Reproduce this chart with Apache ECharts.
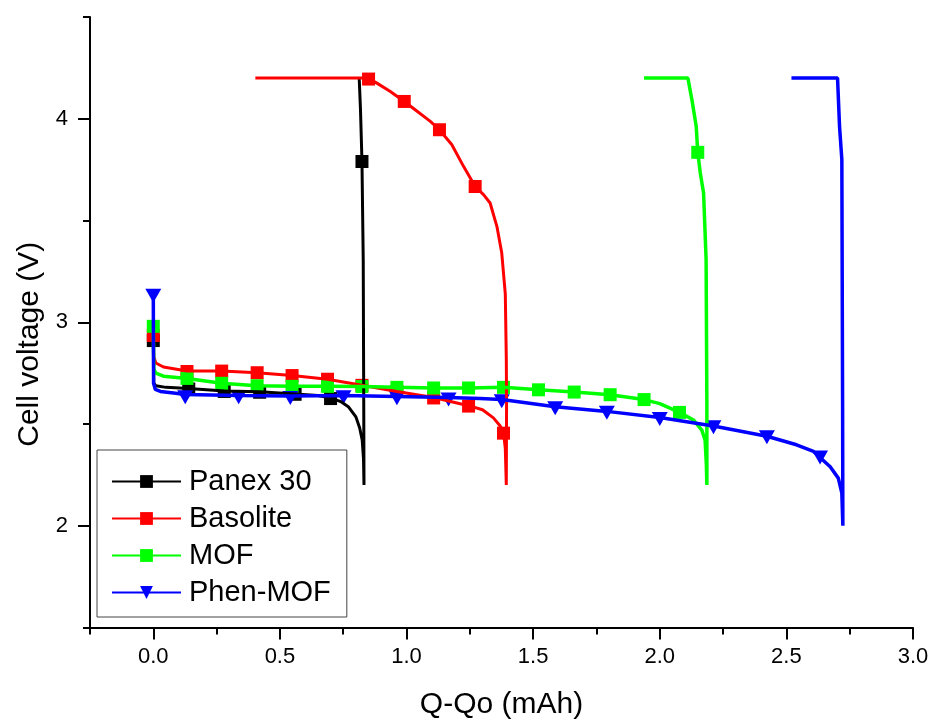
<!DOCTYPE html>
<html>
<head>
<meta charset="utf-8">
<script src="https://cdn.jsdelivr.net/npm/echarts@6/dist/echarts.min.js"></script>
<style>
html,body{margin:0;padding:0;background:#fff;}
#chart{width:935px;height:720px;}
</style>
</head>
<body>
<div id="chart"></div>
<script>
// ---- data ----
const seriesNames = ['Panex 30', 'Basolite', 'MOF', 'Phen-MOF'];
const xTickValues = [0, 0.5, 1, 1.5, 2, 2.5, 3];
const yTickValues = [2, 3, 4];

const panexCurve = [
  [0,2.91],[0.002,2.70],[0.01,2.688],[0.05,2.68],[0.14,2.675],[0.28,2.662],[0.42,2.658],
  [0.56,2.648],[0.65,2.64],[0.70,2.628],[0.74,2.61],[0.77,2.585],[0.80,2.535],[0.815,2.48],
  [0.825,2.42],[0.83,2.33],[0.832,2.2],[0.831,2.6],[0.829,3.3],[0.824,3.79],[0.818,4.05],[0.813,4.2]
];
const panexMarkers = [[0,2.91],[0.14,2.672],[0.28,2.66],[0.42,2.656],[0.56,2.646],[0.70,2.625],[0.824,3.79]];

const basoliteCurve = [
  [0,2.935],[0.002,2.83],[0.01,2.80],[0.04,2.78],[0.133,2.76],[0.27,2.76],[0.41,2.752],
  [0.548,2.738],[0.688,2.72],[0.824,2.69],[0.962,2.66],[1.107,2.63],[1.245,2.59],[1.30,2.57],
  [1.343,2.53],[1.37,2.49],[1.383,2.455],[1.39,2.38],[1.394,2.2],
  [1.395,2.6],[1.394,2.82],[1.39,3.14],[1.376,3.34],[1.357,3.47],[1.33,3.586],[1.304,3.627],
  [1.271,3.667],[1.225,3.766],[1.179,3.872],[1.13,3.946],[1.094,3.987],[1.034,4.044],
  [0.991,4.085],[0.936,4.134],[0.883,4.175],[0.85,4.198],[0.84,4.2],[0.403,4.2]
];
const basoliteMarkers = [
  [0,2.935],[0.133,2.758],[0.27,2.76],[0.41,2.752],[0.548,2.738],[0.688,2.72],[0.824,2.69],
  [0.962,2.66],[1.107,2.628],[1.245,2.588],[1.383,2.455],[1.271,3.667],[1.13,3.946],[0.991,4.085],[0.85,4.195]
];

const mofCurve = [
  [0,2.98],[0.002,2.77],[0.01,2.75],[0.04,2.735],[0.133,2.724],[0.27,2.70],[0.41,2.688],
  [0.548,2.685],[0.688,2.685],[0.824,2.684],[0.962,2.68],[1.107,2.677],[1.245,2.677],
  [1.383,2.68],[1.521,2.668],[1.662,2.657],[1.804,2.644],[1.938,2.62],[2.0,2.60],[2.078,2.557],
  [2.133,2.52],[2.166,2.47],[2.179,2.42],[2.184,2.3],[2.186,2.2],
  [2.186,2.6],[2.183,3.307],[2.173,3.635],[2.16,3.733],[2.15,3.835],[2.144,3.962],
  [2.127,4.093],[2.111,4.2],[1.938,4.2]
];
const mofMarkers = [
  [0,2.98],[0.133,2.724],[0.27,2.70],[0.41,2.688],[0.548,2.685],[0.688,2.685],[0.824,2.684],
  [0.962,2.68],[1.107,2.677],[1.245,2.677],[1.383,2.68],[1.521,2.668],[1.662,2.657],
  [1.804,2.644],[1.938,2.62],[2.078,2.557],[2.15,3.835]
];

const phenCurve = [
  [0,3.13],[0.001,2.70],[0.008,2.67],[0.028,2.66],[0.08,2.652],[0.126,2.645],[0.337,2.64],
  [0.541,2.638],[0.751,2.64],[0.962,2.635],[1.166,2.63],[1.29,2.625],[1.376,2.62],[1.587,2.585],
  [1.791,2.562],[2.0,2.532],[2.212,2.49],[2.423,2.44],[2.54,2.398],[2.607,2.365],[2.673,2.29],
  [2.705,2.234],[2.719,2.16],[2.723,2.0],
  [2.722,2.6],[2.719,3.80],[2.71,3.96],[2.702,4.2],[2.52,4.2]
];
const phenMarkers = [
  [0,3.13],[0.126,2.632],[0.337,2.632],[0.541,2.628],[0.751,2.632],[0.962,2.626],[1.166,2.62],
  [1.376,2.612],[1.587,2.578],[1.791,2.555],[2.0,2.525],[2.212,2.484],[2.423,2.435],[2.633,2.335]
];

// ---- chart ----
const FONT = '"Liberation Sans", Arial, Helvetica, sans-serif';
const colors = ['#000000', '#ff0000', '#00ff00', '#0000ff'];
const curves = [panexCurve, basoliteCurve, mofCurve, phenCurve];
const markers = [panexMarkers, basoliteMarkers, mofMarkers, phenMarkers];
const symbols = ['rect', 'rect', 'rect', 'triangle'];
const symbolSizes = [13, 13, 13, [16, 14]];
const symbolRotates = [0, 0, 0, 180];
const lineWidths = [3, 3, 3.5, 3.5];

const series = [];
seriesNames.forEach((name, i) => {
  series.push({
    name: name, type: 'line', data: curves[i],
    xAxisIndex: 0, yAxisIndex: 0,
    showSymbol: false, symbol: symbols[i], symbolRotate: symbolRotates[i],
    color: colors[i],
    lineStyle: { color: colors[i], width: lineWidths[i] },
    itemStyle: { color: colors[i] },
    animation: false, silent: true
  });
  series.push({
    name: name, type: 'scatter', data: markers[i],
    xAxisIndex: 0, yAxisIndex: 0,
    symbol: symbols[i], symbolSize: symbolSizes[i], symbolRotate: symbolRotates[i],
    itemStyle: { color: colors[i], opacity: 1 },
    animation: false, silent: true
  });
});

const chart = echarts.init(document.getElementById('chart'), null, { renderer: 'canvas' });
chart.setOption({
  backgroundColor: '#ffffff',
  animation: false,
  textStyle: { fontFamily: FONT },
  grid: { left: 90, right: 22, top: 17, bottom: 92.5, containLabel: false, outerBoundsMode: 'none' },
  legend: {
    data: seriesNames,
    orient: 'vertical',
    left: 97, top: 450,
    padding: [17, 16, 10, 14],
    itemGap: 8,
    itemWidth: 69, itemHeight: 16,
    borderColor: '#444', borderWidth: 1,
    backgroundColor: '#ffffff',
    selectedMode: false,
    textStyle: { fontSize: 29, color: '#000', fontFamily: FONT, padding: [0, 0, 0, 3] }
  },
  xAxis: [
    {
      type: 'value', min: -0.25, max: 3, position: 'bottom',
      name: 'Q-Qo (mAh)', nameLocation: 'middle', nameGap: 62,
      nameTextStyle: { fontSize: 30, color: '#000', fontFamily: FONT },
      axisLine: { show: true, onZero: false, lineStyle: { color: '#000', width: 2 } },
      axisTick: { show: true, customValues: xTickValues, length: 12, lineStyle: { color: '#000', width: 2 } },
      axisLabel: { customValues: xTickValues, formatter: v => Number(v).toFixed(1), fontSize: 22, color: '#000', margin: 18, fontFamily: FONT },
      splitLine: { show: false }
    },
    {
      type: 'value', min: -0.25, max: 3, interval: 0.25, position: 'bottom',
      axisLine: { show: false, onZero: false },
      axisTick: { show: true, length: 7, lineStyle: { color: '#000', width: 2 } },
      axisLabel: { show: false },
      splitLine: { show: false }
    }
  ],
  yAxis: [
    {
      type: 'value', min: 1.5, max: 4.5, position: 'left',
      name: 'Cell voltage (V)', nameLocation: 'middle', nameGap: 44, nameRotate: 90,
      nameTextStyle: { fontSize: 30, color: '#000', fontFamily: FONT, padding: [0, 44, 0, 0] },
      axisLine: { show: true, onZero: false, lineStyle: { color: '#000', width: 2 } },
      axisTick: { show: true, customValues: yTickValues, length: 12, lineStyle: { color: '#000', width: 2 } },
      axisLabel: { customValues: yTickValues, formatter: v => String(v), fontSize: 22, color: '#000', margin: 22, fontFamily: FONT },
      splitLine: { show: false }
    },
    {
      type: 'value', min: 1.5, max: 4.5, interval: 0.5, position: 'left',
      axisLine: { show: false, onZero: false },
      axisTick: { show: true, length: 7, lineStyle: { color: '#000', width: 2 } },
      axisLabel: { show: false },
      splitLine: { show: false }
    }
  ],
  series: series
});
</script>
</body>
</html>
